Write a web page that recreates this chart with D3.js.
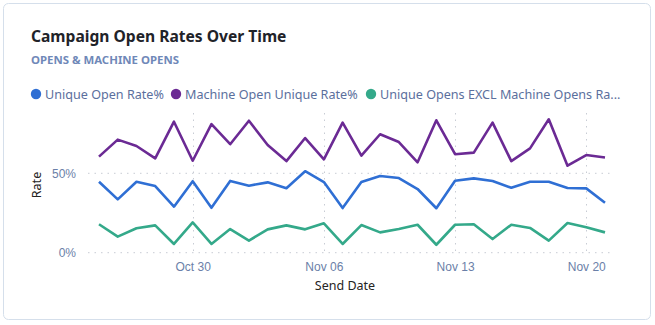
<!DOCTYPE html>
<html><head><meta charset="utf-8">
<script src="https://cdn.jsdelivr.net/npm/d3@7"></script>
<style>
html,body{margin:0;padding:0;background:#fff;}
svg{display:block;font-family:"Noto Sans","Open Sans",sans-serif;}
</style></head>
<body><svg id="c" width="655" height="325"></svg>
<script>
const startDate = "2023-10-25";
const uniqueOpenRate = [44.7,33.6,44.7,42,29,45,28.3, 45.2,42.2,44.3,40.6,51.3,44.5,28.1, 44.5,48.3,47,40.1,28,45.3,46.8, 45.2,40.9,44.7,44.7,40.7,40.5,31.5];
const machineOpenRate = [60.5,71.2,67.2,59.4,82.5,57.9,81, 68.3,83.1,67.8,57.7,72.2,58.8,81.9, 61.1,74.6,69.7,56.9,83.4,62,63, 81.9,57.7,65.7,84,54.8,61.5,60];
const exclMachineRate = [17.9,10.1,15.4,17.2,5.5,19.1,5.5, 14.9,7.6,14.7,17.2,14.7,18.5,5.5, 17.4,12.8,14.9,17.6,5,17.6,17.9, 8.6,17.6,15.6,7.6,18.7,16,12.8];
const seriesNames = ["Unique Open Rate%","Machine Open Unique Rate%","Unique Opens EXCL Machine Opens Ra..."];
const seriesColors = ["#2f6fd4","#6b2a94","#34a98a"];
const yTicks = [0,50];
const xTickLabels = ["Oct 30","Nov 06","Nov 13","Nov 20"];
const xTickDates = ["2023-10-30","2023-11-06","2023-11-13","2023-11-20"];

const parse = d3.utcParse("%Y-%m-%d");
const d0 = parse(startDate);
const dates = uniqueOpenRate.map((_,i)=>d3.utcDay.offset(d0,i));
const series = [uniqueOpenRate, machineOpenRate, exclMachineRate];

const svg = d3.select("#c");
svg.append("rect").attr("x",3.5).attr("y",3.5).attr("width",647).attr("height",316).attr("rx",5)
  .attr("fill","#fff").attr("stroke","#d5dfeb").attr("stroke-width",1);

svg.append("text").attr("x",31).attr("y",42).text("Campaign Open Rates Over Time")
  .attr("font-size",15.6).attr("font-weight",700).attr("fill","#1f2329");
svg.append("text").attr("x",31).attr("y",64).text("OPENS & MACHINE OPENS")
  .attr("font-size",11.4).attr("font-weight",700).attr("fill","#6f88b8");

const legend = svg.append("g");
const legendStarts = [36,176,371];
seriesNames.forEach((n,i)=>{
  const lx = legendStarts[i];
  legend.append("circle").attr("cx",lx).attr("cy",94).attr("r",5.2).attr("fill",seriesColors[i]);
  const t = legend.append("text").attr("x",lx+9).attr("y",98.5).text(n)
    .attr("font-size",12.6).attr("fill","#5b6f9d");
});

const x = d3.scaleUtc().domain([dates[0], dates[dates.length-1]]).range([99,605]);
const y = d3.scaleLinear().domain([0,50]).range([252.7,173.3]);

const gridL = 88, gridR = 614, plotTop = 113;
yTicks.forEach(v=>{
  svg.append("line").attr("x1",gridL).attr("x2",gridR).attr("y1",y(v)).attr("y2",y(v))
    .attr("stroke","#c8ccd4").attr("stroke-width",1).attr("stroke-dasharray","1.5,5");
});
xTickDates.forEach(d=>{
  const xx = Math.round(x(parse(d)))+0.5;
  svg.append("line").attr("x1",xx).attr("x2",xx).attr("y1",plotTop).attr("y2",y(0))
    .attr("stroke","#c8ccd4").attr("stroke-width",1).attr("stroke-dasharray","1.5,5");
});

const yAxis = d3.axisLeft(y).tickValues(yTicks).tickFormat(d=>d+"%").tickSize(0).tickPadding(0);
const gy = svg.append("g").attr("transform","translate(76,0)").call(yAxis);
gy.select(".domain").remove();
gy.selectAll("text").attr("font-size",12).attr("fill","#6b7fa8").attr("font-family","inherit").attr("dy","0.35em");

const xAxis = d3.axisBottom(x).tickValues(xTickDates.map(parse)).tickFormat((d,i)=>xTickLabels[i]).tickSize(0).tickPadding(0);
const gx = svg.append("g").attr("transform","translate(0,262)").call(xAxis);
gx.select(".domain").remove();
gx.selectAll("text").attr("font-size",12).attr("fill","#6b7fa8").attr("font-family","inherit");

svg.append("text").attr("x",345).attr("y",290).attr("text-anchor","middle").text("Send Date")
  .attr("font-size",12.5).attr("fill","#252423");
svg.append("text").attr("transform","translate(41,185) rotate(-90)").attr("text-anchor","middle").text("Rate")
  .attr("font-size",12.5).attr("fill","#252423");

const line = d3.line().x((d,i)=>x(dates[i])).y(d=>y(d));
series.forEach((s,i)=>{
  svg.append("path").datum(s).attr("d",line).attr("fill","none")
    .attr("stroke",seriesColors[i]).attr("stroke-width",2.6).attr("stroke-linejoin","round");
});
</script></body></html>
